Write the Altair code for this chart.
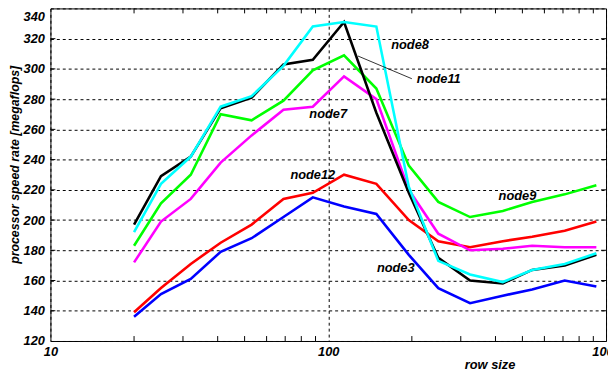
import altair as alt
import pandas as pd

# ---- data ----
row_size = [20, 25, 32, 41, 53, 69, 88, 114, 149, 195, 249, 324, 425, 542, 710, 923]
node3  = [136, 151, 161, 179, 188, 202, 215, 209, 204, 177, 155, 145, 150, 154, 160, 156]
node12 = [139, 155, 171, 185, 197, 214, 218, 230, 224, 200, 186, 182, 186, 189, 193, 199]
node7  = [172, 199, 214, 238, 256, 273, 275, 295, 280, 220, 191, 180, 181, 183, 182, 182]
node9  = [183, 211, 230, 270, 266, 279, 299, 309, 287, 236, 212, 202, 206, 212, 217, 223]
node11 = [197, 229, 242, 274, 281, 303, 306, 331, 271, 218, 175, 160, 158, 167, 170, 177]
node8  = [192, 224, 242, 275, 282, 302, 328, 331, 328, 222, 173, 164, 159, 167, 171, 178]

series_names  = ["node3", "node12", "node7", "node9", "node11", "node8"]
series_colors = ["#0000ff", "#ff0000", "#ff00ff", "#00ff00", "#000000", "#00ffff"]

label_names = ["node8", "node11", "node7", "node12", "node9", "node3"]
label_x     = [197, 250, 100, 88, 480, 175]
label_y     = [316, 293, 270, 230, 216, 168]

leader_x  = [128]
leader_y  = [308.5]
leader_x2 = [200]
leader_y2 = [293.5]

x_minor_ticks = [20, 30, 40, 50, 60, 70, 80, 90, 200, 300, 400, 500, 600, 700, 800, 900]
y_ticks = [140, 160, 180, 200, 220, 240, 260, 280, 300, 320]
x_labels = [10, 100, 1000]
y_labels = [120, 140, 160, 180, 200, 220, 240, 260, 280, 300, 320, 340]

W, H = 563, 337
FONT = "Liberation Sans"

series_data = {"node3": node3, "node12": node12, "node7": node7,
               "node9": node9, "node11": node11, "node8": node8}
rows = []
for name in series_names:
    for xv, yv in zip(row_size, series_data[name]):
        rows.append({"series": name, "row": xv, "rate": yv})
df = pd.DataFrame(rows)

xscale = alt.Scale(type="log", domain=[10, 1000], nice=False)
yscale = alt.Scale(domain=[120, 340], nice=False, zero=False)

xaxis = alt.Axis(values=x_labels, format="d", title="row size", grid=True,
                 gridColor="black", gridDash=[3, 3], gridWidth=1, gridOpacity=1,
                 ticks=False, tickSize=0, domain=False, labelPadding=5,
                 labelFont=FONT, labelFontSize=13, labelFontWeight="bold",
                 labelFontStyle="italic", labelColor="black", labelFlush=False,
                 titleFont=FONT, titleFontSize=13, titleFontWeight="bold",
                 titleFontStyle="italic", titleColor="black",
                 titleX=445, titleY=24, titleBaseline="middle",
                 titleAlign="center")
yaxis = alt.Axis(values=y_labels, title="processor speed rate [megaflops]", grid=True,
                 gridColor="black", gridDash=[3, 3], gridWidth=1, gridOpacity=1,
                 ticks=False, tickSize=0, domain=False, labelPadding=6,
                 labelFont=FONT, labelFontSize=13, labelFontWeight="bold",
                 labelFontStyle="italic", labelColor="black", labelFlush=False,
                 labelBaseline={"condition": {"test": "datum.value == 340", "value": "top"},
                                "value": "middle"},
                 labelOffset={"condition": {"test": "datum.value == 340", "value": 2},
                              "value": 0},
                 titleFont=FONT, titleFontSize=12.5, titleFontWeight="bold",
                 titleFontStyle="italic", titleColor="black",
                 titleX=-36, titleY=158, titleBaseline="middle", titleAlign="center",
                 titleAngle=270)


def X(field):
    return alt.X(field, scale=xscale, axis=xaxis, title="row size")


def Y(field):
    return alt.Y(field, scale=yscale, axis=yaxis, title="processor speed rate [megaflops]")


layers = []
for name, color in zip(series_names, series_colors):
    layers.append(
        alt.Chart(df).transform_filter(alt.datum.series == name)
        .mark_line(color=color, strokeWidth=2.6, strokeJoin="miter")
        .encode(x=X("row:Q"), y=Y("rate:Q"), order=alt.Order("row:Q"))
    )

# inward tick marks
xt = pd.DataFrame({"v": x_minor_ticks})
yt = pd.DataFrame({"v": y_ticks})
layers.append(alt.Chart(xt).mark_rule(color="black", strokeWidth=1).encode(
    x=X("v:Q"), y=alt.value(H), y2=alt.value(H - 5)))
layers.append(alt.Chart(xt).mark_rule(color="black", strokeWidth=1).encode(
    x=X("v:Q"), y=alt.value(0), y2=alt.value(5)))
layers.append(alt.Chart(yt).mark_rule(color="black", strokeWidth=1).encode(
    y=Y("v:Q"), x=alt.value(0), x2=alt.value(5)))
layers.append(alt.Chart(yt).mark_rule(color="black", strokeWidth=1).encode(
    y=Y("v:Q"), x=alt.value(W - 5), x2=alt.value(W)))

# annotations
lab = pd.DataFrame({"t": label_names, "x": label_x, "y": label_y})
layers.append(alt.Chart(lab).mark_text(font=FONT, fontSize=13, fontWeight="bold",
                                       fontStyle="italic", color="black").encode(
    x=X("x:Q"), y=Y("y:Q"), text="t:N"))
lead = pd.DataFrame({"x": leader_x, "y": leader_y, "x2": leader_x2, "y2": leader_y2})
layers.append(alt.Chart(lead).mark_rule(color="black", strokeWidth=0.8).encode(
    x=X("x:Q"), y=Y("y:Q"), x2="x2:Q", y2="y2:Q"))

chart = alt.layer(*layers).properties(
    width=W, height=H,
    autosize=alt.AutoSizeParams(type="none"),
    padding={"left": 43, "top": -2, "right": 2, "bottom": 30},
    background="white",
).configure_view(stroke="black", strokeWidth=1)

chart.save("out.html", embed_options={"renderer": "svg", "actions": False})
